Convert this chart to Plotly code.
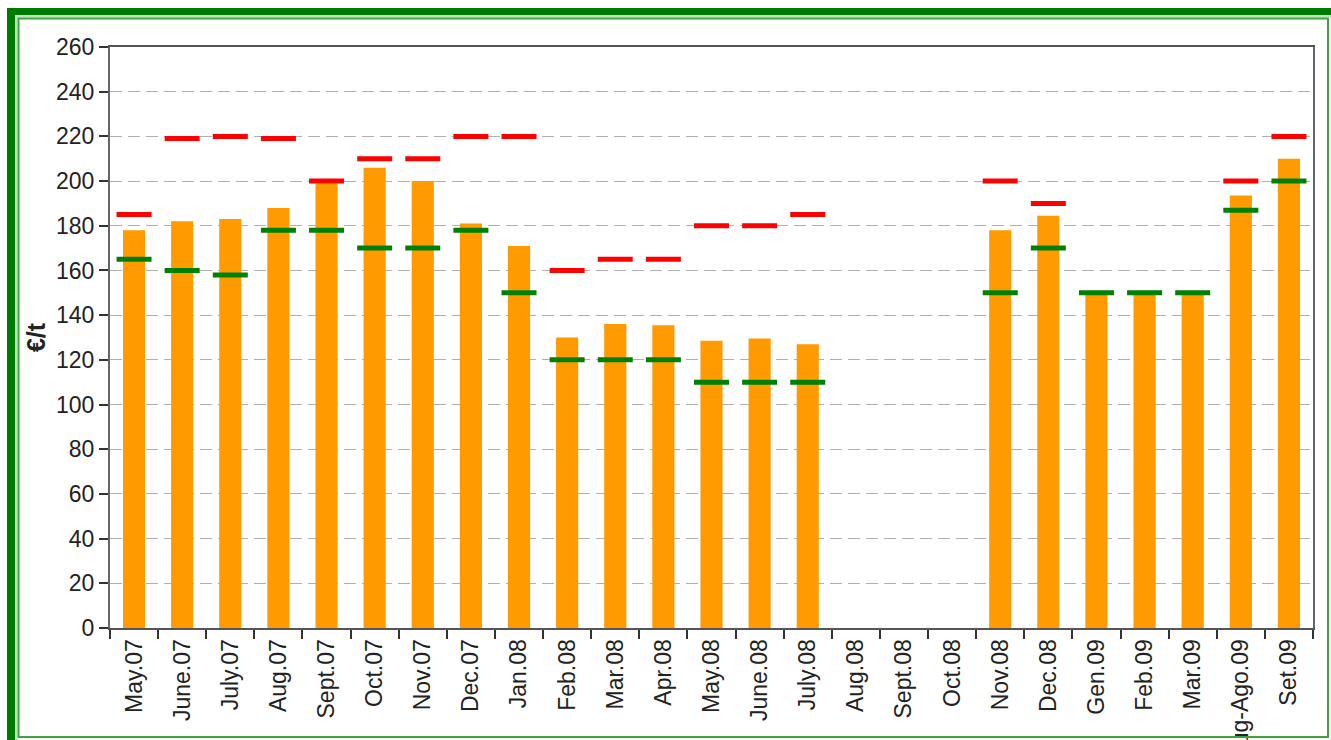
import plotly.graph_objects as go

months = ["May.07", "June.07", "July.07", "Aug.07", "Sept.07", "Oct.07", "Nov.07", "Dec.07",
          "Jan.08", "Feb.08", "Mar.08", "Apr.08", "May.08", "June.08", "July.08", "Aug.08",
          "Sept.08", "Oct.08", "Nov.08", "Dec.08", "Gen.09", "Feb.09", "Mar.09", "Lug-Ago.09", "Set.09"]
price = [178, 182, 183, 188, 199, 206, 200, 181, 171, 130, 136, 135.5, 128.5, 129.5, 127,
         None, None, None, 178, 184.5, 150, 150, 150, 193.5, 210]
high = [185, 219, 220, 219, 200, 210, 210, 220, 220, 160, 165, 165, 180, 180, 185,
        None, None, None, 200, 190, None, None, None, 200, 220]
low = [165, 160, 158, 178, 178, 170, 170, 178, 150, 120, 120, 120, 110, 110, 110,
       None, None, None, 150, 170, 150, 150, 150, 187, 200]
yticks = list(range(0, 261, 20))

FONT = "Liberation Sans"
L, R, T, B = 110, 1313, 47, 628
W, H = 1331, 740


def px(x):
    return (x - L) / (R - L)


def py(y):
    return (B - y) / (B - T)


fig = go.Figure()
fig.add_trace(go.Bar(x=months, y=price, marker=dict(color="#FF9A00", line=dict(width=0)),
                     width=0.46, hoverinfo="x+y", name="price"))
fig.add_trace(go.Scatter(x=months, y=high, mode="markers", name="max",
                         marker=dict(symbol="line-ew", size=25, color="#FF0000",
                                     line=dict(color="#FF0000", width=5))))
fig.add_trace(go.Scatter(x=months, y=low, mode="markers", name="min",
                         marker=dict(symbol="line-ew", size=25, color="#008000",
                                     line=dict(color="#008000", width=5))))

shapes = [
    # thick outer frame (top and left)
    dict(type="rect", xref="paper", yref="paper", x0=px(7), x1=px(1331), y0=py(15), y1=py(8),
         fillcolor="#007A00", line=dict(width=0), layer="above"),
    dict(type="rect", xref="paper", yref="paper", x0=px(7), x1=px(15), y0=py(740), y1=py(8),
         fillcolor="#007A00", line=dict(width=0), layer="above"),
    # light gap
    dict(type="rect", xref="paper", yref="paper", x0=px(15), x1=px(1331), y0=py(17.5), y1=py(15),
         fillcolor="#BFE0BF", line=dict(width=0), layer="above"),
    dict(type="rect", xref="paper", yref="paper", x0=px(15), x1=px(17.5), y0=py(740), y1=py(15),
         fillcolor="#BFE0BF", line=dict(width=0), layer="above"),
    # inner thin frame
    dict(type="rect", xref="paper", yref="paper", x0=px(18.5), x1=px(1328), y0=py(737), y1=py(18.5),
         fillcolor="rgba(0,0,0,0)", line=dict(color="#3FA33F", width=2), layer="above"),
]

fig.update_layout(
    width=W, height=H, autosize=False,
    margin=dict(l=L, r=W - R, t=T, b=H - B, pad=0, autoexpand=False),
    paper_bgcolor="white", plot_bgcolor="white",
    showlegend=False, bargap=0.54,
    font=dict(family=FONT, size=23, color="#222222"),
    shapes=shapes,
    xaxis=dict(
        type="category", categoryorder="array", categoryarray=months,
        tickangle=-90, tickfont=dict(family=FONT, size=23, color="#222222"),
        ticks="outside", ticklen=9, tickwidth=2, tickcolor="#333333", tickson="boundaries",
        showline=True, linecolor="#555555", linewidth=2, mirror=True,
        showgrid=False, range=[-0.5, len(months) - 0.5], automargin=False,
    ),
    yaxis=dict(
        range=[0, 260], tickvals=yticks, ticktext=[str(v) for v in yticks],
        tickfont=dict(family=FONT, size=23, color="#222222"),
        ticks="outside", ticklen=9, tickwidth=2, tickcolor="#333333",
        showline=True, linecolor="#666666", linewidth=2, mirror=True,
        showgrid=True, gridcolor="#B0B0B0", gridwidth=1, griddash="12px,6px",
        zeroline=False, automargin=False,
        title=dict(text="<b>€/t</b>", font=dict(family=FONT, size=25, color="#222222"), standoff=3),
    ),
)

fig.write_html("out.html", config={"displayModeBar": False},
               post_script="document.body.style.margin='0';document.body.style.overflow='hidden';")
